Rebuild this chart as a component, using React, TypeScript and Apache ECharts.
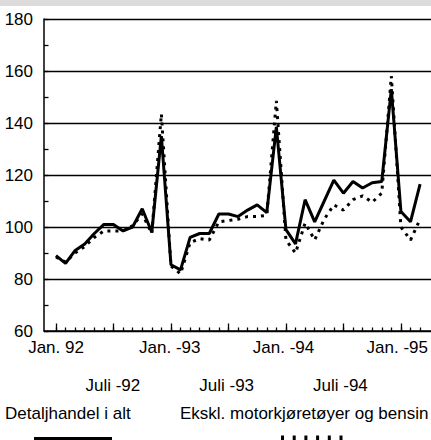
import React, { useEffect, useRef } from "react";
import * as echarts from "echarts";

// Month index 0 = Jan 1992 ... 38 = Mar 1995
const totalData: number[] = [
  89, 86, 91, 93.5, 97.5, 101, 101, 98.5, 100, 107, 98, 135,
  85.5, 83.5, 96, 97.5, 97.5, 105, 105, 104, 106.5, 108.5, 105.5, 138.5,
  99, 93.5, 110.5, 102, 110, 118, 113, 117.5, 115, 117, 117.5, 153,
  106, 102, 116.5,
];
const exclData: number[] = [
  88.5, 86.5, 90, 92.5, 96, 98.5, 98.5, 98.5, 100.5, 105, 97.5, 143.5,
  85, 82, 94, 95.5, 95, 102, 102.5, 103, 104, 104, 104.5, 148.5,
  95, 90, 101.5, 95, 103, 108.5, 106.5, 110.5, 112, 109.5, 113, 158,
  100, 95, 103,
];
const janPositions: number[] = [0, 12, 24, 36];
const janLabels: string[] = ["Jan. 92", "Jan. -93", "Jan. -94", "Jan. -95"];
const juliPositions: number[] = [6, 18, 30];
const juliLabels: string[] = ["Juli -92", "Juli -93", "Juli -94"];
const seriesNames: string[] = ["Detaljhandel i alt", "Ekskl. motorkjøretøyer og bensin"];

const FONT = "'Liberation Sans', Arial, Helvetica, sans-serif";
const FS = 17;
const MONTH_PX = 9.583;

export default function App() {
  const ref = useRef<HTMLDivElement>(null);
  useEffect(() => {
    if (!ref.current) return;
    const chart = echarts.init(ref.current, undefined, { renderer: "svg" });
    const monthKeys = totalData.map((_, i) => String(i));
    const lastMonth = totalData.length - 1;
    const xMin = -1.25;
    const xMax = 39.14;
    const catRight = 431 - (56 + lastMonth * MONTH_PX);
    const hidden = {
      axisLine: { show: false },
      axisTick: { show: false },
      axisLabel: { show: false },
    };
    const catBase = {
      type: "category" as const,
      data: monthKeys,
      boundaryGap: false,
      position: "bottom" as const,
      ...hidden,
      splitLine: { show: false },
    };
    const tickLine = { color: "#000", width: 1.3 };
    chart.setOption({
      animation: false,
      backgroundColor: "#ffffff",
      grid: [
        { left: 44, right: 0, top: 19, bottom: 109, containLabel: false },
        { left: 56, right: catRight, top: 19, bottom: 109, containLabel: false },
        { left: 56, right: catRight, top: 327.5, bottom: 109, containLabel: false },
        { left: 56, right: 431 - (56 + 36 * MONTH_PX), top: 323.5, bottom: 109, containLabel: false },
        { left: 44, width: 4.5, top: 19, bottom: 109, containLabel: false },
      ],
      xAxis: [
        {
          type: "value",
          gridIndex: 0,
          min: xMin,
          max: xMax,
          position: "bottom",
          splitLine: { show: false },
          axisLine: { show: true, onZero: false, lineStyle: { color: "#000", width: 1.5 } },
          axisTick: { show: false },
          axisLabel: { show: false },
        },
        {
          ...catBase,
          gridIndex: 1,
          axisLabel: {
            show: true,
            interval: (idx: number) => janPositions.indexOf(idx) >= 0,
            margin: 8,
            color: "#000",
            fontFamily: FONT,
            fontSize: FS,
            formatter: (_v: string, idx: number) => {
              const k = janPositions.indexOf(idx);
              return k >= 0 ? janLabels[k] : "";
            },
          },
        },
        {
          ...catBase,
          gridIndex: 1,
          axisLabel: {
            show: true,
            interval: (idx: number) => juliPositions.indexOf(idx) >= 0,
            margin: 46,
            color: "#000",
            fontFamily: FONT,
            fontSize: FS,
            formatter: (_v: string, idx: number) => {
              const k = juliPositions.indexOf(idx);
              return k >= 0 ? juliLabels[k] : "";
            },
          },
        },
        // short month ticks (every month)
        {
          type: "value",
          gridIndex: 2,
          min: 0,
          max: lastMonth,
          interval: 1,
          ...hidden,
          splitLine: { show: true, lineStyle: tickLine },
        },
        // long ticks at Jan / Jul (every 6 months)
        {
          type: "value",
          gridIndex: 3,
          min: 0,
          max: 36,
          interval: 6,
          ...hidden,
          splitLine: { show: true, lineStyle: tickLine },
        },
        { type: "value", gridIndex: 4, show: false },
      ],
      yAxis: [
        {
          type: "value",
          gridIndex: 0,
          min: 60,
          max: 180,
          interval: 20,
          axisLine: { show: true, onZero: false, lineStyle: { color: "#000", width: 1.5 } },
          axisTick: { show: false },
          splitLine: { show: true, lineStyle: { color: "#000", width: 1.3 } },
          axisLabel: {
            color: "#000",
            fontFamily: FONT,
            fontSize: FS,
            margin: 11,
            padding: [4, 0, 0, 0],
          },
        },
        { type: "value", gridIndex: 1, min: 60, max: 180, show: false },
        { type: "value", gridIndex: 2, min: 0, max: 1, show: false },
        { type: "value", gridIndex: 3, min: 0, max: 1, show: false },
        // y-axis ticks every 10
        {
          type: "value",
          gridIndex: 4,
          min: 60,
          max: 180,
          interval: 10,
          ...hidden,
          splitLine: { show: true, lineStyle: tickLine },
        },
      ],
      series: [
        {
          name: seriesNames[1],
          type: "line",
          xAxisIndex: 0,
          yAxisIndex: 0,
          data: exclData.map((v, i) => [i, v]),
          symbol: "none",
          lineStyle: { color: "#000", width: 3, type: [3, 5], cap: "butt" },
          z: 2,
        },
        {
          name: seriesNames[0],
          type: "line",
          xAxisIndex: 0,
          yAxisIndex: 0,
          data: totalData.map((v, i) => [i, v]),
          symbol: "none",
          lineStyle: { color: "#000", width: 3, join: "bevel" },
          z: 3,
        },
      ],
      graphic: [
        { type: "rect", shape: { x: 0, y: 0, width: 431, height: 6 }, style: { fill: "#dcdcdc" }, silent: true },
        {
          type: "text",
          x: 5,
          y: 413,
          style: { text: seriesNames[0], fill: "#000", font: `${FS}px ${FONT}`, verticalAlign: "middle" },
        },
        {
          type: "text",
          x: 180,
          y: 413,
          style: { text: seriesNames[1], fill: "#000", font: `${FS}px ${FONT}`, verticalAlign: "middle" },
        },
        {
          type: "line",
          shape: { x1: 34, y1: 438.5, x2: 112, y2: 438.5 },
          style: { stroke: "#000", lineWidth: 3 },
        },
        {
          type: "line",
          shape: { x1: 281, y1: 438, x2: 343, y2: 438 },
          style: { stroke: "#000", lineWidth: 5, lineDash: [3, 8.7] },
        },
      ],
    });
    return () => chart.dispose();
  }, []);
  return (
    <div
      ref={ref}
      style={{ position: "fixed", left: 0, top: 0, width: 431, height: 440, background: "#fff" }}
    />
  );
}
